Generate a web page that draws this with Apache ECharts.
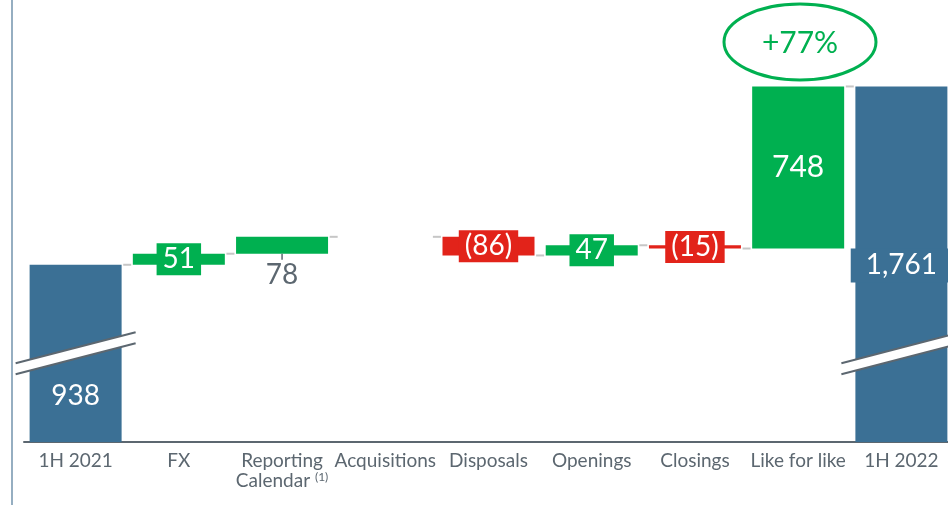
<!DOCTYPE html>
<html>
<head>
<meta charset="utf-8">
<script src="https://cdn.jsdelivr.net/npm/echarts@6/dist/echarts.min.js"></script>
<style>
  html, body { margin: 0; padding: 0; background: #fff; overflow: hidden; }
  #main { width: 953px; height: 505px; }
</style>
</head>
<body>
<div id="main"></div>
<script>
// data
const categories = ['1H 2021', 'FX', 'Reporting\nCalendar', 'Acquisitions', 'Disposals', 'Openings', 'Closings', 'Like for like', '1H 2022'];
const changes = [938, 51, 78, 0, -86, 47, -15, 748, 1761];
const isTotal = [true, false, false, false, false, false, false, false, true];
const growthText = '+77%';
const breakLevel = 530; // where the axis break marks cross the total bars

const BLUE = '#3b7095', GREEN = '#00b050', RED = '#e2231a', GREY = '#5c6770';
const FONT = 'Lato, "Open Sans", sans-serif';

// transparent base + visible step for the waterfall
let running = 0;
const baseData = [], stepData = [], endLevel = [];
changes.forEach((v, i) => {
  if (isTotal[i]) {
    baseData.push(0); stepData.push(v); running = v;
  } else {
    baseData.push(Math.min(running, running + v)); stepData.push(Math.abs(v)); running += v;
  }
  endLevel.push(running);
});

function fmt(v) {
  const s = Math.abs(v).toLocaleString('en-US');
  return v < 0 ? '(' + s + ')' : s;
}

function colorFor(i) {
  if (isTotal[i]) return BLUE;
  return changes[i] < 0 ? RED : GREEN;
}

// label look per bar
function labelFor(i) {
  const base = { show: true, color: '#fff', fontSize: 28, lineHeight: 32, fontFamily: FONT, formatter: fmt(changes[i]) };
  if (changes[i] === 0) return { show: false };
  if (i === 0) return Object.assign(base, { position: 'insideBottom', distance: 30 });
  if (i === 8) return Object.assign(base, { position: 'insideTop', distance: 162, backgroundColor: BLUE, padding: [1, 15] });
  if (i === 7) return Object.assign(base, { position: 'inside', fontSize: 30 });
  if (i === 2) return Object.assign(base, { position: 'bottom', distance: 5, color: GREY });
  return Object.assign(base, { position: 'inside', backgroundColor: colorFor(i), padding: [0, 6] });
}

const chart = echarts.init(document.getElementById('main'));

const option = {
  backgroundColor: '#fff',
  animation: false,
  grid: { left: 24, top: 0, right: 0, bottom: 63, containLabel: false },
  xAxis: {
    type: 'category',
    data: categories,
    axisLine: { lineStyle: { color: GREY, width: 2 } },
    axisTick: { show: false },
    axisLabel: {
      interval: 0,
      color: GREY,
      fontSize: 19,
      fontFamily: FONT,
      margin: 9,
      lineHeight: 20,
      formatter: function (v) {
        return v === 'Reporting\nCalendar' ? 'Reporting\nCalendar {sup|(1)}' : v;
      },
      rich: {
        sup: { fontSize: 12, color: GREY, fontFamily: FONT, padding: [0, 0, 8, 0] }
      }
    }
  },
  yAxis: {
    type: 'value',
    min: 120,
    max: 2160,
    show: false,
    splitLine: { show: false }
  },
  series: [
    {
      name: 'base',
      type: 'bar',
      stack: 'wf',
      barWidth: 92,
      itemStyle: { color: 'transparent' },
      silent: true,
      data: baseData
    },
    {
      name: 'step',
      type: 'bar',
      stack: 'wf',
      barWidth: 92,
      data: stepData.map((v, i) => ({
        value: v,
        itemStyle: { color: colorFor(i) },
        label: labelFor(i)
      }))
    },
    {
      // connectors between bars
      name: 'connectors',
      type: 'custom',
      data: endLevel.slice(0, -1).map((v, i) => [i, v]),
      renderItem: function (params, api) {
        const p = api.coord([api.value(0), api.value(1)]);
        const band = api.size([1, 0])[0];
        const x = p[0] + band / 2;
        return {
          type: 'line',
          shape: { x1: x - 4, y1: p[1], x2: x + 4, y2: p[1] },
          style: { stroke: '#c6c6c6', lineWidth: 2 }
        };
      },
      z: 3
    },
    {
      // small tick from the Reporting Calendar bar to its label
      name: 'tick',
      type: 'custom',
      data: [[2, baseData[2]]],
      renderItem: function (params, api) {
        const p = api.coord([api.value(0), api.value(1)]);
        return {
          type: 'line',
          shape: { x1: p[0], y1: p[1], x2: p[0], y2: p[1] + 6 },
          style: { stroke: GREY, lineWidth: 1.5 }
        };
      },
      z: 3
    },
    {
      // axis break marks across the total bars
      name: 'breaks',
      type: 'custom',
      data: categories.map((c, i) => isTotal[i] ? [i, breakLevel] : null).filter(Boolean),
      renderItem: function (params, api) {
        const p = api.coord([api.value(0), api.value(1)]);
        const cx = p[0], cy = p[1];
        const hw = 60, dy = 15.5, gap = 5.5;
        return {
          type: 'group',
          children: [
            {
              type: 'polygon',
              shape: { points: [[cx - hw, cy + dy - gap], [cx + hw, cy - dy - gap], [cx + hw, cy - dy + gap], [cx - hw, cy + dy + gap]] },
              style: { fill: '#fff' }
            },
            {
              type: 'line',
              shape: { x1: cx - hw, y1: cy + dy - gap, x2: cx + hw, y2: cy - dy - gap },
              style: { stroke: GREY, lineWidth: 2 }
            },
            {
              type: 'line',
              shape: { x1: cx - hw, y1: cy + dy + gap, x2: cx + hw, y2: cy - dy + gap },
              style: { stroke: GREY, lineWidth: 2 }
            }
          ]
        };
      },
      z: 4
    }
  ],
  graphic: [
    {
      type: 'line',
      shape: { x1: 12, y1: 0, x2: 12, y2: 505 },
      style: { stroke: '#4f7898', lineWidth: 1.2 }
    },
    {
      type: 'ellipse',
      shape: { cx: 800, cy: 42, rx: 76, ry: 38 },
      style: { fill: 'none', stroke: GREEN, lineWidth: 3 }
    },
    {
      type: 'text',
      x: 800, y: 43,
      style: {
        text: growthText, fill: GREEN, fontSize: 30, fontFamily: FONT,
        align: 'center', verticalAlign: 'middle'
      }
    }
  ]
};

chart.setOption(option);
</script>
</body>
</html>
